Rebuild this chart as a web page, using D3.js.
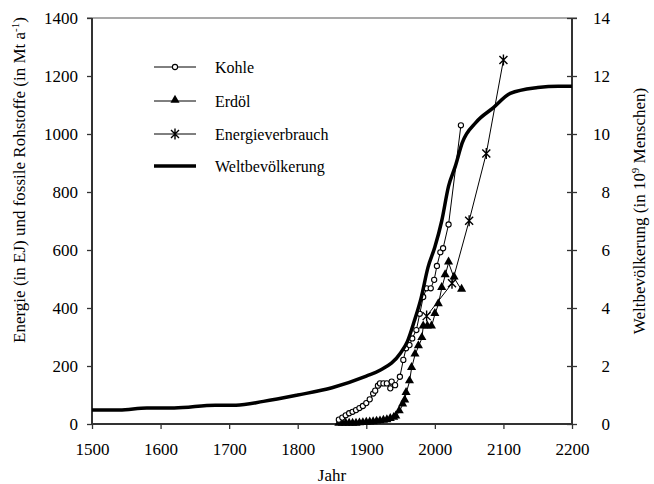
<!DOCTYPE html>
<html>
<head>
<meta charset="utf-8">
<script src="https://cdn.jsdelivr.net/npm/d3@7"></script>
<style>
  html, body { margin: 0; padding: 0; background: #fff; }
  svg { display: block; }
  text { font-family: "Liberation Serif", "Times New Roman", serif; fill: #000; }
</style>
</head>
<body>
<svg id="chart" width="654" height="484"></svg>
<script>
// ---------- data ----------
const popYears  = [1500,1540,1580,1620,1680,1710,1750,1800,1850,1900,1920,1950,1960,1970,1980,1990,2000,2010,2020,2030,2040,2060,2085,2110,2150,2180,2200];
const popValues = [0.48,0.48,0.55,0.55,0.65,0.65,0.78,1.0,1.25,1.65,1.85,2.45,2.85,3.55,4.35,5.4,6.1,7.0,8.2,8.9,9.7,10.4,10.9,11.4,11.6,11.65,11.65];

const coalYears  = [1860,1865,1870,1875,1880,1885,1890,1895,1900,1905,1910,1913,1917,1920,1925,1930,1935,1937,1942,1949,1954,1958,1963,1967,1973,1978,1983,1988,1994,1999,2003,2008,2012,2020,2038];
const coalValues = [15,22,30,37,42,48,55,62,72,85,105,115,132,140,140,140,123,146,134,163,221,261,272,295,324,380,438,468,468,497,545,592,606,688,1030];

const oilYears  = [1860,1865,1870,1875,1880,1885,1890,1895,1900,1905,1910,1915,1920,1925,1930,1935,1940,1943,1948,1953,1956,1958,1963,1966,1971,1976,1981,1983,1989,1995,2000,2005,2010,2015,2020,2028,2039];
const oilValues = [0,0,0,0,0,0,1,2,3,4,5,7,8,10,12,16,20,25,43,66,80,106,146,192,238,267,295,335,335,335,378,412,468,512,556,504,462];

const energyYears  = [1988,2025,2050,2075,2100];
const energyValues = [372,485,701,933,1255];

const xTicks      = [1500,1600,1700,1800,1900,2000,2100,2200];
const yLeftTicks  = [0,200,400,600,800,1000,1200,1400];
const yRightTicks = [0,2,4,6,8,10,12,14];

const legendLabels = ["Kohle","Erdöl","Energieverbrauch","Weltbevölkerung"];

// ---------- layout ----------
const svg = d3.select("#chart");
const L = 92, R = 572, T = 18, B = 424;
const x  = d3.scaleLinear().domain([1500,2200]).range([L,R]);
const yL = d3.scaleLinear().domain([0,1400]).range([B,T]);
const yR = d3.scaleLinear().domain([0,14]).range([B,T]);
const axisColor = "#333";

svg.append("rect").attr("width",654).attr("height",484).attr("fill","#fff");

// top border
svg.append("line").attr("x1",L-5).attr("x2",R+5).attr("y1",T).attr("y2",T)
  .attr("stroke","#8c8c8c").attr("stroke-width",1.5);

// left axis
const gL = svg.append("g").attr("transform",`translate(${L},0)`)
  .call(d3.axisLeft(yL).tickValues(yLeftTicks).tickSize(5).tickPadding(9).tickFormat(d3.format("d")));
// bottom axis
const gB = svg.append("g").attr("transform",`translate(0,${B})`)
  .call(d3.axisBottom(x).tickValues(xTicks).tickSize(5).tickPadding(14).tickFormat(d3.format("d")));
// right axis (ticks crossing)
const gR = svg.append("g").attr("transform",`translate(${R},0)`)
  .call(d3.axisRight(yR).tickValues(yRightTicks).tickSize(5).tickPadding(33).tickFormat(d3.format("d")));
gR.selectAll(".tick line").attr("x1",-5).attr("x2",5);
gR.selectAll(".tick text").attr("text-anchor","end");

[gL,gB,gR].forEach(g=>{
  g.select(".domain").attr("stroke",axisColor).attr("stroke-width",2);
  g.selectAll(".tick line").attr("stroke",axisColor).attr("stroke-width",1.3);
  g.selectAll(".tick text").attr("font-family","Liberation Serif").attr("font-size",17).attr("fill","#000");
});
gL.select(".domain").attr("d",`M0,${T}V${B}`);
gR.select(".domain").attr("d",`M0,${T}V${B}`);
gB.select(".domain").attr("d",`M${L},0H${R}`);

// ---------- series ----------
const clipG = svg.append("g");
function series(years, vals, yScale){
  return years.map((yr,i)=>({yr, v: vals[i], sc: yScale}));
}
const lineGen = d3.line().x(d=>x(d.yr)).y(d=>d.sc(d.v));

const popData = series(popYears, popValues, yR);
const coalData = series(coalYears, coalValues, yL);
const oilData = series(oilYears, oilValues, yL);
const enData = series(energyYears, energyValues, yL);

// thin lines
[coalData, oilData, enData].forEach(dat=>{
  clipG.append("path").datum(dat).attr("d",lineGen)
    .attr("fill","none").attr("stroke","#000").attr("stroke-width",1);
});

// markers
const triPath = d3.symbol().type(d3.symbolTriangle).size(36)();
const astPath = "M-4,-4L4,4M-4,4L4,-4M0,-5.5V5.5";

clipG.append("g").selectAll("path").data(oilData).join("path")
  .attr("transform",d=>`translate(${x(d.yr)},${d.sc(d.v)-1})`)
  .attr("d",triPath).attr("fill","#000");

clipG.append("g").selectAll("circle").data(coalData).join("circle")
  .attr("cx",d=>x(d.yr)).attr("cy",d=>d.sc(d.v)).attr("r",2.6)
  .attr("fill","#fff").attr("stroke","#000").attr("stroke-width",1.1);

clipG.append("g").selectAll("path").data(enData).join("path")
  .attr("transform",d=>`translate(${x(d.yr)},${d.sc(d.v)})`)
  .attr("d",astPath).attr("fill","none").attr("stroke","#000").attr("stroke-width",1.4);

// population
clipG.append("path").datum(popData).attr("d",lineGen.curve(d3.curveMonotoneX))
  .attr("fill","none").attr("stroke","#000").attr("stroke-width",3.5).attr("stroke-linejoin","round");

// ---------- legend ----------
const lg = svg.append("g");
const rowsY = [67,101,134,166];
legendLabels.forEach((lab,i)=>{
  const yy = rowsY[i];
  lg.append("line").attr("x1",154).attr("x2",196).attr("y1",yy).attr("y2",yy)
    .attr("stroke","#000").attr("stroke-width", i===3 ? 3.5 : 1);
  if(i===0) lg.append("circle").attr("cx",175).attr("cy",yy).attr("r",2.6)
      .attr("fill","#fff").attr("stroke","#000").attr("stroke-width",1.1);
  if(i===1) lg.append("path").attr("transform",`translate(175,${yy-1})`).attr("d",triPath).attr("fill","#000");
  if(i===2) lg.append("path").attr("transform",`translate(175,${yy})`).attr("d",astPath)
      .attr("fill","none").attr("stroke","#000").attr("stroke-width",1.4);
  lg.append("text").attr("x",215).attr("y",yy).attr("dy","0.35em")
    .attr("font-size",16).text(lab);
});

// ---------- axis titles ----------
svg.append("text").attr("x",332).attr("y",481).attr("text-anchor","middle")
  .attr("font-size",17).text("Jahr");

const tL = svg.append("text").attr("text-anchor","middle").attr("font-size",17)
  .attr("transform","translate(25,180) rotate(-90)");
tL.append("tspan").text("Energie (in EJ) und fossile Rohstoffe (in Mt a");
tL.append("tspan").attr("font-size",11).attr("dy",-6).text("-1");
tL.append("tspan").attr("dy",6).text(")");

const tR = svg.append("text").attr("text-anchor","middle").attr("font-size",17)
  .attr("transform","translate(645,211) rotate(-90)");
tR.append("tspan").text("Weltbevölkerung (in 10");
tR.append("tspan").attr("font-size",11).attr("dy",-6).text("9");
tR.append("tspan").attr("dy",6).text(" Menschen)");
</script>
</body>
</html>
